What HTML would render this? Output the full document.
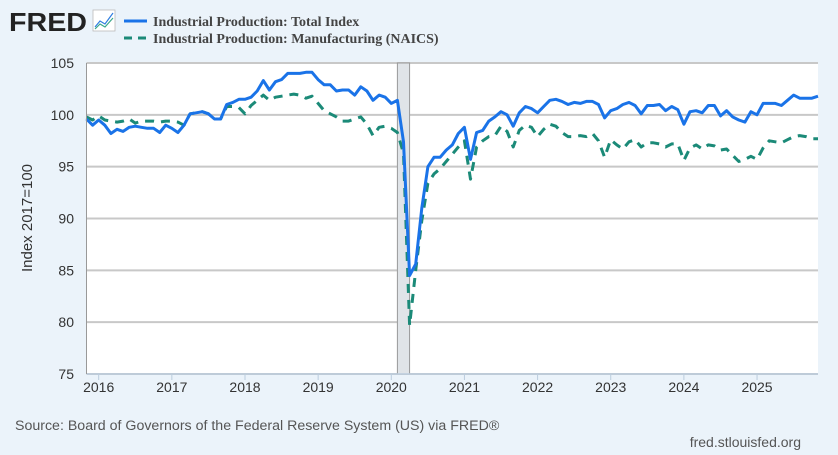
<!DOCTYPE html>
<html><head><meta charset="utf-8">
<style>
html,body{margin:0;padding:0;background:#ebf3fa;}
body{width:838px;height:450px;overflow:hidden;font-family:"Liberation Sans",sans-serif;}
</style></head>
<body>
<svg id="chart" width="838" height="450" xmlns="http://www.w3.org/2000/svg">
<rect x="0" y="0" width="838" height="450" fill="#ebf3fa"/>
<g>
<text x="9" y="31" font-family="Liberation Sans" font-weight="bold" font-size="26" fill="#222" textLength="78" lengthAdjust="spacingAndGlyphs">FRED</text>
<rect x="93" y="10" width="22" height="21" fill="#fff" stroke="#bbb" stroke-width="0.8"/>
<polyline points="95,27 100,21 105,24 113,13" fill="none" stroke="#2e7de0" stroke-width="1.2"/>
<polyline points="95,29 100,24 105,27 113,18" fill="none" stroke="#3aa889" stroke-width="1.2"/>
</g>
<g>
<line x1="124" y1="21" x2="147" y2="21" stroke="#1a73e8" stroke-width="3"/>
<text x="153" y="26" font-family="Liberation Serif" font-weight="bold" font-size="14" fill="#444">Industrial Production: Total Index</text>
<line x1="124" y1="38" x2="147" y2="38" stroke="#1b8a78" stroke-width="3" stroke-dasharray="8,6"/>
<text x="153" y="43" font-family="Liberation Serif" font-weight="bold" font-size="14" fill="#444">Industrial Production: Manufacturing (NAICS)</text>
</g>
<rect x="86.5" y="63" width="731.5" height="311" fill="#fff"/>
<g id="grid"></g>
<g id="rec"></g>
<g id="series"></g>
<g id="axes"></g>
<text transform="translate(32,218) rotate(-90)" text-anchor="middle" font-size="15" fill="#333">Index 2017=100</text>
<text x="15" y="430" font-size="14.2" fill="#555">Source: Board of Governors of the Federal Reserve System (US) via FRED®</text>
<text x="801" y="447" text-anchor="end" font-size="14" fill="#555">fred.stlouisfed.org</text>
</svg>
<script>
const yTicks=[75,80,85,90,95,100,105];
const xYears=[2016,2017,2018,2019,2020,2021,2022,2023,2024,2025];
const startYear=2015, startMonth=10; // Nov 2015 (0-based month)
const recessionStart=[2020,1], recessionEnd=[2020,3];
const totalIndex=[99.6,99.0,99.5,99.0,98.2,98.6,98.4,98.8,98.9,98.8,98.7,98.7,98.3,99.0,98.7,98.3,99.0,100.1,100.2,100.3,100.1,99.6,99.6,101.0,101.2,101.5,101.5,101.7,102.3,103.3,102.4,103.2,103.4,104.0,104.0,104.0,104.1,104.1,103.4,102.9,102.9,102.3,102.4,102.4,101.9,102.7,102.3,101.4,101.9,101.7,101.1,101.4,97.4,84.5,85.6,91.0,95.0,95.9,95.9,96.6,97.1,98.2,98.8,95.7,98.3,98.5,99.4,99.8,100.3,100.0,98.9,100.2,100.8,100.6,100.2,100.8,101.4,101.5,101.3,101.0,101.2,101.1,101.3,101.3,101.0,99.7,100.4,100.6,101.0,101.2,100.9,100.1,100.9,100.9,101.0,100.4,100.8,100.5,99.1,100.3,100.4,100.2,100.9,100.9,99.9,100.4,99.8,99.5,99.3,100.3,100.0,101.1,101.1,101.1,100.9,101.4,101.9,101.6,101.6,101.6,101.8];
const manufacturing=[99.8,99.5,99.9,99.5,99.4,99.3,99.4,99.6,99.2,99.4,99.4,99.4,99.3,99.4,99.4,99.3,99.0,100.1,100.2,100.3,100.1,99.6,99.6,100.8,100.8,100.7,100.1,100.9,101.4,101.9,101.4,101.7,101.8,101.9,102.0,101.9,101.6,101.8,101.1,100.4,100.1,99.8,99.4,99.4,99.6,99.8,99.1,98.0,98.8,98.9,98.7,98.3,96.3,79.7,85.0,89.8,93.4,94.3,94.8,95.5,96.2,96.9,97.5,93.8,96.9,97.5,97.9,98.0,98.9,98.4,96.9,98.5,99.0,98.8,97.9,98.6,99.1,98.9,98.3,97.9,97.9,98.0,97.9,98.2,97.5,95.9,97.6,97.1,96.7,97.4,97.6,96.9,97.3,97.3,97.2,96.9,97.2,97.2,95.6,96.8,97.1,96.7,97.1,97.0,96.6,96.7,96.1,95.5,95.7,96.0,95.7,96.8,97.5,97.4,97.3,97.6,97.9,98.0,97.9,97.7,97.7];
const NS='http://www.w3.org/2000/svg';
const L=86.5,R=818,T=63,B=374;
const t0=startYear+startMonth/12, t1=2025+10/12;
function xs(t){return L+(t-t0)/(t1-t0)*(R-L);}
function ys(v){return T+(105-v)/(105-75)*(B-T);}
function mk(tag,attrs,parent){const e=document.createElementNS(NS,tag);for(const k in attrs)e.setAttribute(k,attrs[k]);parent.appendChild(e);return e;}
const grid=document.getElementById('grid'),axes=document.getElementById('axes'),ser=document.getElementById('series'),rec=document.getElementById('rec');
yTicks.forEach(v=>{
  const g=mk('line',{x1:L,x2:R,y1:ys(v),y2:ys(v),stroke:'#c8c8c8','stroke-width':2},grid);
  
  
  const t=mk('text',{x:74,y:ys(v)+5,'text-anchor':'end','font-size':14,fill:'#333'},axes);
  t.textContent=v;
  
  
});
const rs=xs(recessionStart[0]+recessionStart[1]/12), re=xs(recessionEnd[0]+recessionEnd[1]/12);
const rr=mk('rect',{x:rs,y:T,width:re-rs,height:B-T,fill:'#e0e4e8',stroke:'#999','stroke-width':1},rec);


const xa=mk('line',{x1:L,x2:R,y1:B,y2:B,stroke:'#bcd',"stroke-width":1.5},axes);


const ya=mk('line',{x1:L,x2:L,y1:T,y2:B,stroke:'#999',"stroke-width":1},axes);


xYears.forEach(yr=>{
  const x=xs(yr);
  const tk=mk('line',{x1:x,x2:x,y1:B,y2:B+6,stroke:'#bcd','stroke-width':1},axes);
  
  
  const t=mk('text',{x:x,y:B+18,'text-anchor':'middle','font-size':14,fill:'#333'},axes);
  t.textContent=yr;
  
  
});
function pts(arr){return arr.map((v,i)=>xs(t0+i/12).toFixed(1)+','+ys(v).toFixed(1)).join(' ');}
const p2=mk('polyline',{points:pts(manufacturing),fill:'none',stroke:'#1b8a78','stroke-width':3,'stroke-dasharray':'9,7','stroke-linejoin':'round'},ser);


const p1=mk('polyline',{points:pts(totalIndex),fill:'none',stroke:'#1a73e8','stroke-width':3,'stroke-linejoin':'round'},ser);


</script>
</body></html>
